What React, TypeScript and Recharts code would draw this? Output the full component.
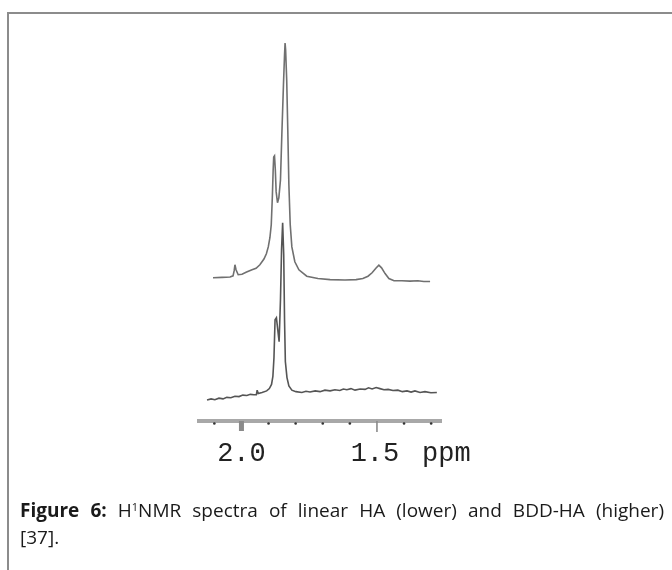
import React from 'react';
import { ComposedChart, Line, XAxis, YAxis } from 'recharts';

// chemical shift (ppm) and relative intensity of BDD-HA (upper trace)
const upperPpm = [
  2.105, 2.072, 2.042, 2.031, 2.027, 2.024, 2.02, 2.012, 1.998, 1.981, 1.961, 1.946, 1.932,
  1.917, 1.908, 1.901, 1.895, 1.89, 1.886, 1.883, 1.881, 1.878, 1.875, 1.872, 1.867, 1.862,
  1.856, 1.851, 1.845, 1.841, 1.839, 1.837, 1.833, 1.829, 1.825, 1.82, 1.814, 1.803, 1.788,
  1.759, 1.718, 1.673, 1.618, 1.577, 1.552, 1.533, 1.518, 1.504, 1.493, 1.483, 1.47, 1.456,
  1.437, 1.408, 1.378, 1.349, 1.327, 1.304,
];
const upperIntensity = [
  37.6, 37.7, 37.8, 38.1, 39.4, 41.0, 39.7, 38.4, 38.5, 39.1, 39.7, 40.1, 41.0,
  42.5, 43.9, 45.7, 48.1, 51.5, 58.8, 65.9, 69.3, 69.6, 65.9, 60.2, 57.3, 58.6,
  63.3, 75.1, 88.2, 96.1, 99.2, 97.4, 89.5, 76.4, 62.0, 51.5, 45.7, 41.8, 39.7,
  38.0, 37.4, 37.1, 37.0, 37.1, 37.4, 38.0, 38.9, 40.1, 40.9, 40.2, 38.7, 37.4,
  36.8, 36.8, 36.7, 36.8, 36.6, 36.6,
];

// chemical shift (ppm) and relative intensity of linear HA (lower trace)
const lowerPpm = [
  2.127, 2.112, 2.098, 2.083, 2.068, 2.054, 2.039, 2.024, 2.009, 1.995, 1.98, 1.967, 1.954,
  1.945, 1.942, 1.938, 1.924, 1.907, 1.897, 1.889, 1.884, 1.88, 1.876, 1.871, 1.866, 1.861,
  1.856, 1.852, 1.848, 1.844, 1.841, 1.838, 1.832, 1.825, 1.814, 1.799, 1.777, 1.762, 1.747,
  1.728, 1.71, 1.692, 1.673, 1.655, 1.637, 1.624, 1.611, 1.596, 1.581, 1.562, 1.544, 1.531,
  1.518, 1.503, 1.489, 1.474, 1.459, 1.441, 1.423, 1.406, 1.389, 1.374, 1.36, 1.341, 1.323,
  1.301, 1.279,
];
const lowerIntensity = [
  5.5, 5.8, 5.6, 6.0, 5.8, 6.2, 6.1, 6.5, 6.4, 6.8, 6.7, 7.0, 6.9,
  6.9, 8.1, 7.2, 7.5, 7.9, 8.5, 9.6, 11.7, 16.6, 26.6, 27.1, 24.0, 20.8,
  31.8, 45.0, 52.0, 43.6, 26.6, 15.6, 11.4, 9.2, 8.1, 7.7, 7.5, 7.8, 7.6,
  7.9, 7.7, 8.1, 7.9, 8.2, 8.0, 8.4, 8.2, 8.5, 8.1, 8.4, 8.3, 8.7,
  8.4, 8.8, 8.5, 8.2, 8.3, 8.0, 8.1, 7.7, 7.9, 7.6, 7.9, 7.5, 7.7,
  7.4, 7.5,
];

const axisTicks = [2.1, 2.0, 1.9, 1.8, 1.7, 1.6, 1.5, 1.4, 1.3];
const labelledTicks = ['2.0', '1.5'];
const unitLabel = 'ppm';
const captionBold = 'Figure 6:';
const captionPre = ' H';
const captionSup = '1';
const captionPost = 'NMR spectra of linear HA (lower) and BDD-HA (higher)';
const captionLine2 = '[37].';

const upperData = upperPpm.map((p, i) => ({ ppm: p, value: upperIntensity[i] }));
const lowerData = lowerPpm.map((p, i) => ({ ppm: p, value: lowerIntensity[i] }));

const monoFont = '"Liberation Mono", "DejaVu Sans Mono", monospace';

const AxisTick = (props: any) => {
  const { x, y, payload } = props;
  const label = Number(payload.value).toFixed(1);
  if (label === labelledTicks[0]) {
    return (
      <g>
        <rect x={x - 2.5} y={y} width={5} height={10} fill="#8a8a8a" />
        <text x={x} y={y + 40} textAnchor="middle" fontFamily={monoFont} fontSize={27} fill="#222">
          {label}
        </text>
      </g>
    );
  }
  if (label === labelledTicks[1]) {
    return (
      <g>
        <line x1={x} x2={x} y1={y} y2={y + 11} stroke="#8a8a8a" strokeWidth={1.6} />
        <text x={x - 2} y={y + 40} textAnchor="middle" fontFamily={monoFont} fontSize={27} fill="#222">
          {label}
        </text>
      </g>
    );
  }
  return <circle cx={x} cy={y + 2.5} r={1.3} fill="#333" />;
};

const UnitLabel = (props: any) => {
  const vb = props.viewBox || { x: 0, y: 0, width: 0 };
  return (
    <text x={vb.x + vb.width - 20} y={vb.y + 40} fontFamily={monoFont} fontSize={27} fill="#222">
      {unitLabel}
    </text>
  );
};

export default function App() {
  return (
    <div style={{ position: 'relative', width: 664, height: 540 }}>
      <div
        style={{
          position: 'fixed',
          left: 7,
          top: 12,
          width: 665,
          height: 558,
          borderTop: '2px solid #8c8c8c',
          borderLeft: '2px solid #8c8c8c',
          boxSizing: 'border-box',
        }}
      />
      <div style={{ position: 'absolute', left: 0, top: 0 }}>
        <ComposedChart
          width={664}
          height={470}
          margin={{ top: 32, left: 189, right: 230, bottom: 7 }}
        >
          <XAxis
            dataKey="ppm"
            type="number"
            domain={[1.26, 2.164]}
            reversed
            allowDataOverflow
            ticks={axisTicks}
            interval={0}
            tickSize={0}
            tickMargin={0}
            tickLine={false}
            height={50}
            axisLine={{ stroke: '#a8a8a8', strokeWidth: 4 }}
            tick={<AxisTick />}
            label={<UnitLabel />}
          />
          <YAxis hide type="number" domain={[0, 100]} allowDataOverflow />
          <Line
            data={upperData}
            dataKey="value"
            type="linear"
            dot={false}
            stroke="#707070"
            strokeWidth={1.6}
            isAnimationActive={false}
          />
          <Line
            data={lowerData}
            dataKey="value"
            type="linear"
            dot={false}
            stroke="#555"
            strokeWidth={1.6}
            isAnimationActive={false}
          />
        </ComposedChart>
      </div>
      <div
        style={{
          position: 'absolute',
          left: 12,
          top: 489,
          width: 644,
          fontFamily: '"Open Sans", "Noto Sans", sans-serif',
          fontSize: 19,
          letterSpacing: 0,
          lineHeight: '27px',
          color: '#1a1a1a',
        }}
      >
        <div style={{ textAlign: 'justify', textAlignLast: 'justify', whiteSpace: 'nowrap' }}>
          <b>{captionBold}</b>
          {captionPre}
          <sup style={{ fontSize: 11, verticalAlign: 'top', lineHeight: '19px' }}>{captionSup}</sup>
          {captionPost}
        </div>
        <div>{captionLine2}</div>
      </div>
    </div>
  );
}
